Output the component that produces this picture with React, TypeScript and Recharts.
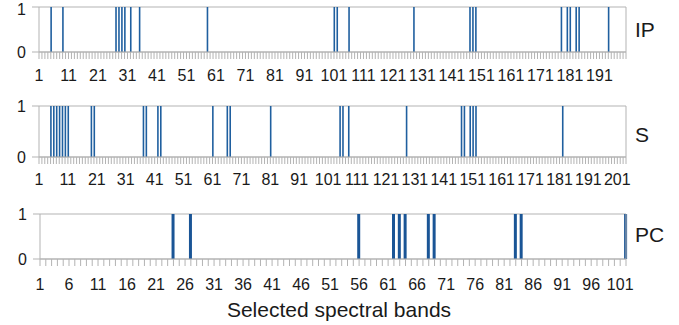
import React from 'react';
import { BarChart, Bar, XAxis, YAxis, CartesianGrid, ReferenceLine } from 'recharts';

const FONT = '"Liberation Sans", Arial, sans-serif';
const GRID = '#b3b3b3';
const TEXT = '#1a1a1a';

const IP_BAND_COUNT = 200;
const S_BAND_COUNT = 204;
const PC_BAND_COUNT = 102;

const IP_SELECTED = [5, 9, 27, 28, 29, 30, 32, 35, 58, 101, 102, 106, 128, 147, 148, 149, 178, 180, 181, 183, 184, 194];
const S_SELECTED = [5, 6, 7, 8, 9, 10, 11, 19, 20, 37, 38, 42, 43, 61, 66, 67, 81, 105, 106, 108, 128, 147, 148, 150, 151, 152, 182];
const PC_SELECTED = [24, 27, 56, 62, 63, 64, 68, 69, 83, 84, 102];

const IP_TICK_LABELS = [1, 11, 21, 31, 41, 51, 61, 71, 81, 91, 101, 111, 121, 131, 141, 151, 161, 171, 181, 191];
const S_TICK_LABELS = [1, 11, 21, 31, 41, 51, 61, 71, 81, 91, 101, 111, 121, 131, 141, 151, 161, 171, 181, 191, 201];
const PC_TICK_LABELS = [1, 6, 11, 16, 21, 26, 31, 36, 41, 46, 51, 56, 61, 66, 71, 76, 81, 86, 91, 96, 101];

const Y_TICKS = [0, 1];
const PANEL_NAMES = ['IP', 'S', 'PC'];
const X_TITLE = 'Selected spectral bands';

type PanelProps = {
  count: number;
  selected: number[];
  labels: number[];
  top: number;
  height: number;
  marginTop: number;
  marginBottom: number;
  plotLeft: number;
  barSize: number;
  labelDy: number;
  color: string;
};

function Panel({ count, selected, labels, top, height, marginTop, marginBottom, plotLeft, barSize, labelDy, color }: PanelProps) {
  const data = Array.from({ length: count }, (_, i) => ({ band: i + 1, v: selected.includes(i + 1) ? 1 : 0 }));
  const allTicks = data.map((d) => d.band);
  const renderTick = (props: any) => {
    const { x, y, payload } = props;
    if (!labels.includes(payload.value)) return <g />;
    return (
      <text x={x} y={y + labelDy} textAnchor="middle" fontSize={16} fill={TEXT} fontFamily={FONT}>
        {payload.value}
      </text>
    );
  };
  return (
    <div style={{ position: 'absolute', left: 0, top, width: 679, height }}>
      <BarChart
        width={679}
        height={height}
        data={data}
        margin={{ top: marginTop, right: 53, bottom: marginBottom, left: 0 }}
      >
        <CartesianGrid vertical={false} stroke={GRID} />
        <XAxis
          type="number"
          dataKey="band"
          domain={[1, count]}
          ticks={allTicks}
          interval={0}
          tickSize={7}
          tickLine={{ stroke: GRID }}
          axisLine={{ stroke: GRID }}
          tick={renderTick}
          height={36}
        />
        <YAxis
          domain={[0, 1]}
          ticks={Y_TICKS}
          width={plotLeft}
          tickSize={7}
          tickMargin={6}
          axisLine={{ stroke: GRID }}
          tickLine={{ stroke: GRID }}
          tick={{ fontSize: 16, fill: TEXT, fontFamily: FONT }}
        />
        <ReferenceLine x={count} stroke={GRID} />
        <Bar dataKey="v" fill={color} barSize={barSize} isAnimationActive={false} />
      </BarChart>
    </div>
  );
}

export default function App() {
  return (
    <div style={{ position: 'absolute', left: 0, top: 0, width: 679, height: 325, background: '#fff', fontFamily: FONT }}>
      <Panel count={IP_BAND_COUNT} selected={IP_SELECTED} labels={IP_TICK_LABELS} top={0} height={92}
        marginTop={7} marginBottom={4} plotLeft={39} barSize={1.6} labelDy={19.6} color="#1f5f9f" />
      <Panel count={S_BAND_COUNT} selected={S_SELECTED} labels={S_TICK_LABELS} top={95} height={100}
        marginTop={11} marginBottom={2} plotLeft={39} barSize={1.6} labelDy={19} color="#1f5f9f" />
      <Panel count={PC_BAND_COUNT} selected={PC_SELECTED} labels={PC_TICK_LABELS} top={200} height={97}
        marginTop={14} marginBottom={2} plotLeft={40} barSize={3} labelDy={22} color="#1a5596" />
      <svg width={679} height={325} style={{ position: 'absolute', left: 0, top: 0, pointerEvents: 'none' }}>
        <text x={635} y={36.7} fontSize={21} fill={TEXT} fontFamily={FONT}>{PANEL_NAMES[0]}</text>
        <text x={635} y={141.7} fontSize={21} fill={TEXT} fontFamily={FONT}>{PANEL_NAMES[1]}</text>
        <text x={635} y={241.7} fontSize={21} fill={TEXT} fontFamily={FONT}>{PANEL_NAMES[2]}</text>
        <text x={339} y={316.7} fontSize={21} fill={TEXT} fontFamily={FONT} textAnchor="middle">{X_TITLE}</text>
      </svg>
    </div>
  );
}
